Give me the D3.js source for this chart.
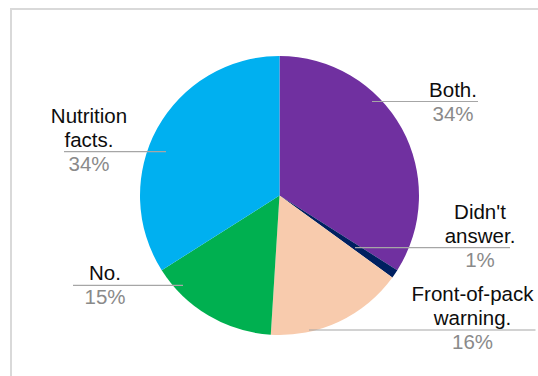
<!DOCTYPE html>
<html>
<head>
<meta charset="utf-8">
<script src="https://cdn.jsdelivr.net/npm/d3@7"></script>
<style>
  html, body { margin: 0; padding: 0; background: #fff; }
  svg { display: block; }
  text { font-family: "Liberation Sans", Arial, sans-serif; }
</style>
</head>
<body>
<svg id="chart" width="538" height="376"></svg>
<script>
// Survey answers: which label the respondent relies on
const categories = ["Both.", "Didn't answer.", "Front-of-pack warning.", "No.", "Nutrition facts."];
const shares = [34, 1, 16, 15, 34];
const nameLines = [["Both."], ["Didn't", "answer."], ["Front-of-pack", "warning."], ["No."], ["Nutrition", "facts."]];
const colors = ["#7030a0", "#002060", "#f8cbad", "#00b050", "#00b0f0"];

// Label placement relative to the pie centre: text centre x, leader line y, leader line extent
const labelLayout = [
  { cx: 173.5, ly: -94,   x0: 92.5,   x1: 198.5 },
  { cx: 200.5, ly: 52.2,  x0: 75.5,   x1: 230.5 },
  { cx: 193,   ly: 134.5, x0: 29.5,   x1: 256 },
  { cx: -174.5, ly: 89.8, x0: -206.5, x1: -96.5 },
  { cx: -190.5, ly: -43.8, x0: -215.5, x1: -113.5 }
];

const svg = d3.select("#chart");
const W = 538, H = 376;
const cx = 279.5, cy = 195.5, R = 139.5;

// Chart area frame (only its top-left corner falls inside the view)
svg.append("rect")
  .attr("x", 11).attr("y", 9)
  .attr("width", 700).attr("height", 700)
  .attr("fill", "none")
  .attr("stroke", "#d9d9d9")
  .attr("stroke-width", 2);

const data = categories.map((c, i) => ({ name: c, value: shares[i], lines: nameLines[i], color: colors[i], layout: labelLayout[i] }));

const pie = d3.pie().value(d => d.value).sort(null);
const arc = d3.arc().innerRadius(0).outerRadius(R);

const g = svg.append("g").attr("transform", `translate(${cx},${cy})`);

g.selectAll("path.slice")
  .data(pie(data))
  .join("path")
  .attr("class", "slice")
  .attr("d", arc)
  .attr("fill", d => d.data.color);

const total = d3.sum(shares);
const fmt = v => Math.round(v / total * 100) + "%";

const labels = g.selectAll("g.label")
  .data(pie(data))
  .join("g")
  .attr("class", "label");

// Leader lines
labels.append("line")
  .attr("x1", d => d.data.layout.x0)
  .attr("x2", d => d.data.layout.x1)
  .attr("y1", d => d.data.layout.ly)
  .attr("y2", d => d.data.layout.ly)
  .attr("stroke", "#a6a6a6")
  .attr("stroke-width", 1.2);

const fs = 20.5, lh = 24;

// Category names, stacked above the leader line
labels.each(function (d) {
  const sel = d3.select(this);
  const L = d.data.layout;
  const n = d.data.lines.length;
  d.data.lines.forEach((t, k) => {
    sel.append("text")
      .attr("x", L.cx)
      .attr("y", L.ly - 5 - (n - 1 - k) * lh)
      .attr("text-anchor", "middle")
      .attr("font-size", fs)
      .attr("fill", "#0d0d0d")
      .text(t);
  });
  // Percentage below the leader line
  sel.append("text")
    .attr("x", L.cx)
    .attr("y", L.ly + 19)
    .attr("text-anchor", "middle")
    .attr("font-size", fs)
    .attr("fill", "#8a8a8a")
    .text(fmt(d.data.value));
});
</script>
</body>
</html>
